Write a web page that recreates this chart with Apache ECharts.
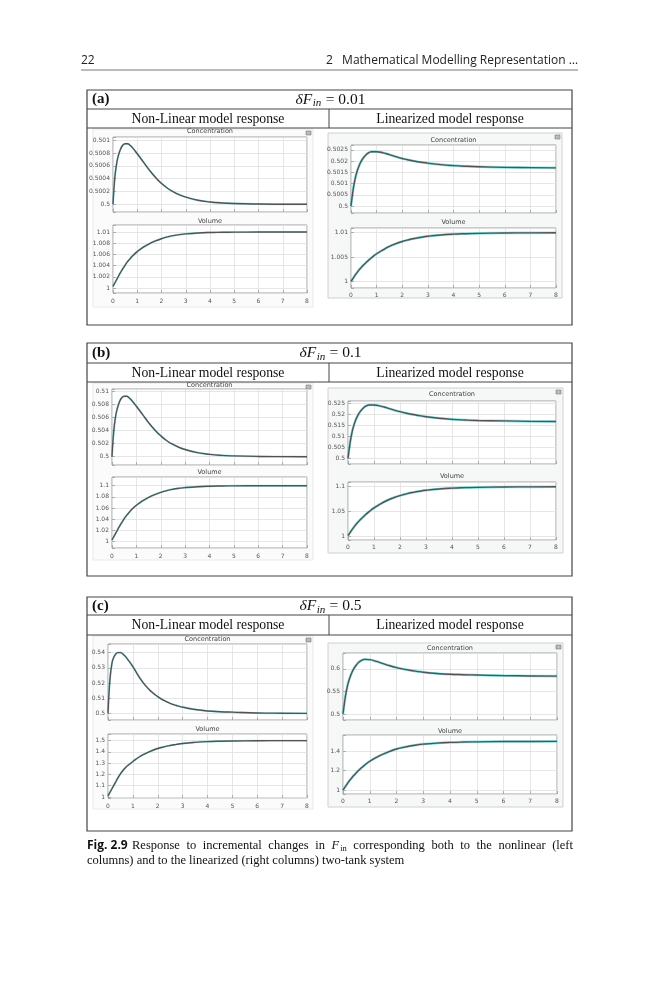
<!DOCTYPE html>
<html>
<head>
<meta charset="utf-8">
<script src="https://cdn.jsdelivr.net/npm/echarts@6/dist/echarts.min.js"></script>
<style>
  html, body { margin: 0; padding: 0; background: #fff; }
  #page { width: 659px; height: 1000px; }
</style>
</head>
<body>
<div id="page"></div>
<script>
// sample times (s) the curves were read at
const time = [0, 0.05, 0.1, 0.15, 0.2, 0.3, 0.4, 0.5, 0.6, 0.7, 0.8, 1, 1.25, 1.5, 1.75, 2, 2.25, 2.5, 2.75, 3, 3.5, 4, 4.5, 5, 6, 7, 8];

// (a) dF = 0.01
const nlConcA = [0.5, 0.500302, 0.500501, 0.500633, 0.500728, 0.500851, 0.500921, 0.500945, 0.500945, 0.500921, 0.500884, 0.500789, 0.500662, 0.500534, 0.500421, 0.500326, 0.50025, 0.500192, 0.500146, 0.500112, 0.500064, 0.500037, 0.500021, 0.500012, 0.500004, 0.500001, 0.5];
const nlVolA = [1.0003, 1.0007, 1.0011, 1.0015, 1.0019, 1.0027, 1.0034, 1.0041, 1.0047, 1.0052, 1.0057, 1.0065, 1.0073, 1.0079, 1.0084, 1.0088, 1.00912, 1.00936, 1.00953, 1.00966, 1.00982, 1.00991, 1.00995, 1.00997, 1.00999, 1.01, 1.01];
const linConcA = [0.5, 0.50045, 0.50085, 0.50115, 0.5014, 0.50175, 0.502, 0.50217, 0.5023, 0.50238, 0.50242, 0.50242, 0.50237, 0.50229, 0.5022, 0.50212, 0.50205, 0.501995, 0.50195, 0.50191, 0.501845, 0.5018, 0.50177, 0.50175, 0.501725, 0.50171, 0.5017];
const linVolA = [1.0001, 1.00045, 1.00085, 1.00125, 1.0016, 1.0023, 1.0029, 1.00345, 1.00395, 1.00445, 1.0049, 1.0057, 1.0065, 1.0072, 1.00775, 1.0082, 1.00855, 1.00884, 1.00908, 1.00927, 1.00953, 1.0097, 1.0098, 1.00987, 1.00994, 1.00997, 1.00999];

// (b) dF = 0.1
const nlConcB = [0.5, 0.50298, 0.50493, 0.50623, 0.50716, 0.50837, 0.50907, 0.5093, 0.5093, 0.50907, 0.5087, 0.50777, 0.50651, 0.50525, 0.50414, 0.50321, 0.50246, 0.50189, 0.50144, 0.5011, 0.50063, 0.50036, 0.5002, 0.50012, 0.50004, 0.50001, 0.5];
const nlVolB = [1.003, 1.007, 1.011, 1.015, 1.019, 1.027, 1.034, 1.041, 1.047, 1.052, 1.057, 1.065, 1.073, 1.079, 1.084, 1.088, 1.0912, 1.0936, 1.0953, 1.0966, 1.0982, 1.0991, 1.0995, 1.0997, 1.0999, 1.1, 1.1];
const linConcB = [0.5, 0.5045, 0.5085, 0.5115, 0.514, 0.5175, 0.52, 0.5217, 0.523, 0.5238, 0.5242, 0.5242, 0.5237, 0.5229, 0.522, 0.5212, 0.5205, 0.5199, 0.5194, 0.5189, 0.5182, 0.5177, 0.5174, 0.5172, 0.517, 0.5168, 0.5167];
const linVolB = [1.001, 1.0045, 1.0085, 1.0125, 1.016, 1.023, 1.029, 1.0345, 1.0395, 1.0445, 1.049, 1.057, 1.065, 1.072, 1.0775, 1.082, 1.0855, 1.0884, 1.0908, 1.0927, 1.0953, 1.097, 1.098, 1.0987, 1.0994, 1.0997, 1.0999];

// (c) dF = 0.5
const nlConcC = [0.5, 0.516, 0.526, 0.532, 0.5356, 0.5388, 0.54, 0.54, 0.539, 0.5374, 0.5354, 0.5308, 0.524, 0.5184, 0.5142, 0.511, 0.5085, 0.5066, 0.5052, 0.5041, 0.5026, 0.5016, 0.5011, 0.5008, 0.5003, 0.5001, 0.5];
const nlVolC = [1.01, 1.03, 1.05, 1.07, 1.09, 1.13, 1.17, 1.205, 1.235, 1.26, 1.28, 1.315, 1.355, 1.385, 1.41, 1.43, 1.445, 1.457, 1.4665, 1.475, 1.485, 1.4915, 1.495, 1.497, 1.499, 1.5, 1.5];
const linConcC = [0.5, 0.5225, 0.5425, 0.5575, 0.57, 0.5875, 0.6, 0.6085, 0.615, 0.619, 0.621, 0.6203, 0.6165, 0.6115, 0.6068, 0.6028, 0.5995, 0.5968, 0.5945, 0.5925, 0.5898, 0.588, 0.587, 0.5862, 0.585, 0.5842, 0.5838];
const linVolC = [1.0, 1.02, 1.04, 1.06, 1.08, 1.115, 1.148, 1.178, 1.205, 1.23, 1.253, 1.295, 1.335, 1.368, 1.396, 1.42, 1.437, 1.451, 1.462, 1.47, 1.481, 1.488, 1.492, 1.494, 1.497, 1.498, 1.499];

const panelLetters = ['(a)', '(b)', '(c)'];
const panelSteps = ['0.01', '0.1', '0.5'];

// plot boxes: [left, top, right, bottom], y range and tick step
const plots = [
  {box: [113, 137, 307, 212], title: 'Concentration', ty: 131.5, y: nlConcA, min: 0.49988, max: 0.50105, step: 0.0002},
  {box: [113, 225, 307, 293], title: 'Volume', ty: 221, y: nlVolA, min: 0.99911, max: 1.01125, step: 0.002},
  {box: [351, 145, 556, 213], title: 'Concentration', ty: 140, y: linConcA, min: 0.49969, max: 0.50272, step: 0.0005},
  {box: [351, 228, 556, 288], title: 'Volume', ty: 222, y: linVolA, min: 0.99871, max: 1.01096, step: 0.005},
  {box: [112, 389, 307, 465], title: 'Concentration', ty: 385.5, y: nlConcB, min: 0.49872, max: 0.51042, step: 0.002},
  {box: [112, 477, 307, 548], title: 'Volume', ty: 472, y: nlVolB, min: 0.98875, max: 1.1155, step: 0.02},
  {box: [348, 401, 556, 464], title: 'Concentration', ty: 394, y: linConcB, min: 0.49741, max: 0.52605, step: 0.005},
  {box: [348, 482, 556, 540], title: 'Volume', ty: 476, y: linVolB, min: 0.9919, max: 1.1095, step: 0.05},
  {box: [108, 644, 307, 720], title: 'Concentration', ty: 639.5, y: nlConcC, min: 0.49565, max: 0.54565, step: 0.01},
  {box: [108, 734, 307, 798], title: 'Volume', ty: 729, y: nlVolC, min: 0.991, max: 1.559, step: 0.1},
  {box: [343, 653, 557, 720], title: 'Concentration', ty: 648, y: linConcC, min: 0.4866, max: 0.6351, step: 0.05},
  {box: [343, 735, 557, 794], title: 'Volume', ty: 731, y: linVolC, min: 0.959, max: 1.564, step: 0.2}
];

const frames = [
  {top: 90, row1: 109, row2: 128, bottom: 325},
  {top: 343, row1: 363, row2: 382, bottom: 576},
  {top: 597, row1: 615, row2: 635, bottom: 831}
];
const scopes = [[93, 129, 313, 307], [328, 133, 562, 298], [93, 383, 313, 560], [328, 388, 563, 553], [93, 636, 313, 809], [328, 643, 563, 807]];

const SERIF = '"Liberation Serif", "DejaVu Serif", serif';
const SANS = '"Open Sans", "Noto Sans", sans-serif';
const TICK = '"DejaVu Sans", sans-serif';

const ctx = document.createElement('canvas').getContext('2d');
function tw(s, size, family, weight, style) {
  ctx.font = (style || 'normal') + ' ' + (weight || 'normal') + ' ' + size + 'px ' + family;
  return ctx.measureText(s).width;
}
function txt(s, x, y, size, family, opt) {
  opt = opt || {};
  return {
    type: 'text', x: x, y: y, silent: true,
    style: {
      text: s, fontSize: size, fontFamily: family,
      fontWeight: opt.weight || 'normal', fontStyle: opt.style || 'normal',
      fill: opt.fill || '#111', align: opt.align || 'left', verticalAlign: opt.va || 'middle'
    }
  };
}

const gfx = [];
// running head
gfx.push(txt('22', 81, 61, 12, SANS, {fill: '#222'}));
gfx.push(txt('2   Mathematical Modelling Representation \u2026', 578, 61, 12, SANS, {fill: '#222', align: 'right'}));
gfx.push({type: 'line', silent: true, shape: {x1: 81, y1: 70, x2: 578, y2: 70}, style: {stroke: '#777', lineWidth: 1.2}});

// panel frames and headers
frames.forEach((f, i) => {
  gfx.push({type: 'rect', silent: true, shape: {x: 87, y: f.top, width: 485, height: f.bottom - f.top},
    style: {fill: 'none', stroke: '#444', lineWidth: 1.2}});
  gfx.push({type: 'line', silent: true, shape: {x1: 87, y1: f.row1, x2: 572, y2: f.row1}, style: {stroke: '#444', lineWidth: 1}});
  gfx.push({type: 'line', silent: true, shape: {x1: 87, y1: f.row2, x2: 572, y2: f.row2}, style: {stroke: '#444', lineWidth: 1}});
  gfx.push({type: 'line', silent: true, shape: {x1: 329, y1: f.row1, x2: 329, y2: f.row2}, style: {stroke: '#444', lineWidth: 1}});
  const ym = (f.top + f.row1) / 2;
  gfx.push(txt(panelLetters[i], 92, ym, 15, SERIF, {weight: 'bold'}));
  // dF_in = value, centred around x = 330
  const w1 = tw('\u03b4F', 15.5, SERIF, 'normal', 'italic');
  const w2 = tw('in', 11, SERIF, 'normal', 'italic');
  const rest = ' = ' + panelSteps[i];
  const w3 = tw(rest, 15.5, SERIF);
  let x0 = 330 - (w1 + w2 + w3) / 2;
  gfx.push(txt('\u03b4F', x0, ym, 15.5, SERIF, {style: 'italic'}));
  gfx.push(txt('in', x0 + w1 + 0.5, ym + 4, 11, SERIF, {style: 'italic'}));
  gfx.push(txt(rest, x0 + w1 + w2 + 1, ym, 15.5, SERIF));
  const ym2 = (f.row1 + f.row2) / 2 + 0.5;
  gfx.push(txt('Non-Linear model response', 208, ym2, 13.7, SERIF, {align: 'center'}));
  gfx.push(txt('Linearized model response', 450, ym2, 13.7, SERIF, {align: 'center'}));
});

// scope window backgrounds and their small corner icons
scopes.forEach((s, i) => {
  const lin = i % 2 === 1;
  gfx.push({type: 'rect', silent: true, z: -10, shape: {x: s[0], y: s[1], width: s[2] - s[0], height: s[3] - s[1]},
    style: {fill: lin ? '#f6f7f7' : '#fbfbfb', stroke: lin ? '#d0d0d0' : '#e8e8e8', lineWidth: 1}});
  gfx.push({type: 'rect', silent: true, shape: {x: s[2] - 7, y: s[1] + 2, width: 5, height: 4},
    style: {fill: '#bbb', stroke: '#777', lineWidth: 0.6}});
});

// plot titles
plots.forEach(p => {
  gfx.push(txt(p.title, (p.box[0] + p.box[2]) / 2, p.ty, 6.5, TICK, {align: 'center', fill: '#444'}));
});

// caption, first line justified between 132 and 573
gfx.push(txt('Fig. 2.9', 87, 846, 12, SANS, {weight: 'bold'}));
const capWords = ['Response', 'to', 'incremental', 'changes', 'in', 'F', 'corresponding', 'both', 'to', 'the', 'nonlinear', '(left'];
const capW = capWords.map(w => w === 'F' ? tw('F', 12.5, SERIF, 'normal', 'italic') + tw('in', 8.5, SERIF) + 1 : tw(w, 12.5, SERIF));
const capGap = (573 - 132 - capW.reduce((a, b) => a + b, 0)) / (capWords.length - 1);
let cx = 132;
capWords.forEach((w, k) => {
  if (w === 'F') {
    const wf = tw('F', 12.5, SERIF, 'normal', 'italic');
    gfx.push(txt('F', cx, 846, 12.5, SERIF, {style: 'italic'}));
    gfx.push(txt('in', cx + wf + 1, 849, 8.5, SERIF));
  } else {
    gfx.push(txt(w, cx, 846, 12.5, SERIF));
  }
  cx += capW[k] + capGap;
});
gfx.push(txt('columns) and to the linearized (right columns) two-tank system', 87, 861, 12.5, SERIF));

// grids, axes, series
const grids = [], xAxes = [], yAxes = [], series = [];
plots.forEach((p, i) => {
  const isVol = i % 2 === 1;
  const isLin = i % 4 >= 2;
  grids.push({
    left: p.box[0], top: p.box[1], width: p.box[2] - p.box[0], height: p.box[3] - p.box[1],
    show: true, backgroundColor: '#fff', borderColor: '#8c8c8c', borderWidth: 0.8
  });
  xAxes.push({
    type: 'value', gridIndex: i, min: 0, max: 8, interval: 1,
    axisLine: {show: false},
    axisTick: {show: true, inside: true, length: 3, lineStyle: {color: '#888', width: 0.6}},
    axisLabel: {show: isVol, fontSize: 6, color: '#555', fontFamily: TICK, margin: isLin ? 4 : 5},
    splitLine: {show: true, lineStyle: {color: '#e0e0e0', width: 0.8}}
  });
  yAxes.push({
    type: 'value', gridIndex: i, min: p.min, max: p.max,
    minInterval: p.step, maxInterval: p.step,
    axisLine: {show: false},
    axisTick: {show: true, inside: true, length: 3, lineStyle: {color: '#888', width: 0.6}},
    axisLabel: {
      fontSize: 6, color: '#555', fontFamily: TICK, margin: 3,
      formatter: v => {
        const k = v / p.step;
        if (Math.abs(k - Math.round(k)) > 1e-4) return '';
        return String(+v.toFixed(6));
      }
    },
    splitLine: {show: true, lineStyle: {color: '#e0e0e0', width: 0.8}}
  });
  const pts = time.map((t, k) => [t, p.y[k]]);
  series.push({
    type: 'line', xAxisIndex: i, yAxisIndex: i, data: pts, showSymbol: false,
    smooth: 0.5, silent: true,
    lineStyle: {color: '#49d3cf', width: isLin ? 2.6 : 2.0, opacity: isLin ? 0.6 : 0.45}, z: 2
  });
  series.push({
    type: 'line', xAxisIndex: i, yAxisIndex: i, data: pts, showSymbol: false,
    smooth: 0.5, silent: true,
    lineStyle: {color: '#505457', width: 1.4}, z: 3
  });
});

const chart = echarts.init(document.getElementById('page'));
chart.setOption({
  animation: false,
  backgroundColor: '#fff',
  grid: grids,
  xAxis: xAxes,
  yAxis: yAxes,
  series: series,
  graphic: {elements: gfx}
});
</script>
</body>
</html>
